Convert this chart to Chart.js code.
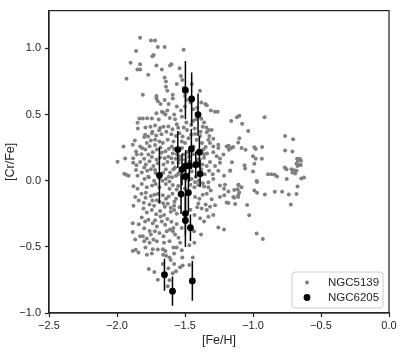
<!DOCTYPE html>
<html><head><meta charset="utf-8">
<script src="https://cdn.jsdelivr.net/npm/chart.js@4.4.0/dist/chart.umd.min.js"></script>
<style>html,body{margin:0;padding:0;background:#fff}</style>
</head><body>
<canvas id="c" width="407" height="357"></canvas>
<script>
const xTicks = [-2.5, -2.0, -1.5, -1.0, -0.5, 0.0];
const yTicks = [-1.0, -0.5, 0.0, 0.5, 1.0];
const seriesNames = ['NGC5139', 'NGC6205'];

// NGC5139: [Fe/H], [Cr/Fe]
const ngc5139 = [
[-1.83,1.08],[-1.75,1.06],[-1.72,1.06],[-1.51,0.99],[-1.70,1.01],[-1.65,1.01],[-1.86,0.98],[-1.90,0.89],[-1.83,0.88],[-1.85,0.84],
[-1.83,0.84],[-1.77,0.80],[-1.74,0.94],[-1.73,0.95],[-1.71,0.87],[-1.60,0.88],[-1.61,0.87],[-1.67,0.84],[-1.54,0.85],[-1.53,0.79],
[-1.52,0.76],[-1.65,0.78],[-1.64,0.75],[-1.93,0.77],[-1.81,0.65],[-1.71,0.64],[-1.71,0.62],[-1.70,0.60],[-1.64,0.71],[-1.63,0.68],
[-1.59,0.65],[-1.59,0.62],[-1.65,0.61],[-1.62,0.58],[-1.68,0.58],[-1.56,0.73],[-1.51,0.70],[-1.50,0.64],[-1.49,0.61],[-1.46,0.59],
[-1.45,0.73],[-1.39,0.68],[-1.38,0.59],[-1.35,0.58],[-1.34,0.57],[-1.31,0.53],[-1.28,0.52],[-1.26,0.52],[-1.50,0.56],[-1.56,0.56],
[-1.44,0.54],[-1.41,0.55],[-1.53,0.53],[-1.63,0.53],[-1.58,0.50],[-1.67,0.52],[-1.71,0.51],
[-1.835,0.469],[-1.810,0.469],[-1.778,0.472],[-1.744,0.469],[-1.693,0.462],[-1.658,0.514],[-1.644,0.499],[-1.612,0.474],[-1.573,0.464],[-1.522,0.482],
[-1.419,0.464],[-1.380,0.467],[-1.849,0.437],[-1.847,0.395],[-1.791,0.402],[-1.754,0.407],[-1.720,0.417],[-1.683,0.398],[-1.658,0.407],[-1.622,0.410],
[-1.592,0.388],[-1.561,0.427],[-1.509,0.402],[-1.485,0.383],[-1.455,0.420],[-1.429,0.395],[-1.370,0.407],[-1.343,0.402],[-1.328,0.383],[-1.340,0.365],
[-1.321,0.338],[-1.385,0.370],[-1.793,0.346],[-1.771,0.333],[-1.742,0.358],[-1.712,0.341],[-1.673,0.351],[-1.637,0.370],[-1.541,0.358],[-1.517,0.333],
[-1.566,0.338],[-1.455,0.346],[-1.426,0.353],[-1.389,0.338],[-1.304,0.383],[-1.292,0.316],
[-1.884,0.272],[-1.830,0.259],[-1.813,0.245],[-1.869,0.304],[-1.781,0.284],[-1.751,0.304],[-1.720,0.309],[-1.688,0.296],[-1.663,0.284],[-1.627,0.309],
[-1.597,0.259],[-1.585,0.296],[-1.524,0.296],[-1.500,0.284],[-1.475,0.321],[-1.414,0.309],[-1.375,0.284],[-1.328,0.309],[-1.316,0.284],[-1.348,0.254],
[-1.292,0.259],[-1.255,0.272],[-1.255,0.247],[-1.194,0.259],[-1.179,0.264],[-1.145,0.254],[-1.952,0.259],[-1.940,0.168],[-1.881,0.170],[-1.854,0.198],
[-1.791,0.235],[-1.769,0.198],[-1.737,0.215],[-1.707,0.235],[-1.671,0.210],[-1.644,0.222],[-1.619,0.242],[-1.590,0.205],[-1.522,0.247],[-1.507,0.198],
[-1.480,0.215],[-1.438,0.259],[-1.365,0.235],[-1.338,0.205],[-1.292,0.215],[-1.267,0.185],[-1.218,0.198],[-1.360,0.173],[-1.243,0.168],[-1.800,0.165],
[-1.744,0.178],[-1.710,0.160],[-1.683,0.175],[-1.622,0.180],[-1.568,0.165],[-1.544,0.185],
[-1.996,0.143],[-1.881,0.136],[-1.857,0.116],[-1.830,0.141],[-1.788,0.123],[-1.761,0.146],[-1.732,0.111],[-1.700,0.131],[-1.658,0.123],[-1.629,0.141],
[-1.590,0.136],[-1.573,0.099],[-1.548,0.136],[-1.468,0.141],[-1.397,0.141],[-1.372,0.123],[-1.340,0.111],[-1.316,0.141],[-1.279,0.111],[-1.243,0.136],
[-1.947,0.052],[-1.932,0.044],[-1.915,0.037],[-1.849,0.037],[-1.818,0.062],[-1.778,0.074],[-1.751,0.086],[-1.717,0.057],[-1.641,0.086],[-1.610,0.062],
[-1.585,0.086],[-1.566,0.037],[-1.541,0.062],[-1.380,0.086],[-1.355,0.049],[-1.323,0.074],[-1.296,0.049],[-1.255,0.074],[-1.213,0.037],[-1.169,0.074],
[-1.798,0.012],[-1.766,0.025],[-1.727,0.000],[-1.666,0.000],[-1.641,0.012],[-1.614,-0.007],[-1.595,0.025],[-1.451,0.012],[-1.426,-0.012],[-1.328,-0.012],
[-1.292,0.012],
[-1.879,-0.042],[-1.849,-0.062],[-1.818,-0.025],[-1.781,-0.049],[-1.742,-0.037],[-1.715,-0.025],[-1.688,-0.049],[-1.641,-0.025],[-1.614,-0.062],[-1.590,-0.032],
[-1.561,-0.067],[-1.431,-0.049],[-1.402,-0.032],[-1.360,-0.044],[-1.328,-0.049],[-1.311,-0.074],[-1.243,-0.037],[-1.213,-0.062],[-1.181,-0.081],[-1.108,-0.032],
[-1.820,-0.099],[-1.788,-0.091],[-1.751,-0.116],[-1.725,-0.106],[-1.707,-0.148],[-1.663,-0.111],[-1.639,-0.136],[-1.592,-0.099],[-1.566,-0.136],[-1.426,-0.123],
[-1.394,-0.136],[-1.370,-0.106],[-1.340,-0.099],[-1.304,-0.141],[-1.243,-0.123],[-1.211,-0.111],[-1.866,-0.123],[-1.879,-0.190],[-1.803,-0.167],[-1.761,-0.180],
[-1.727,-0.190],[-1.688,-0.160],[-1.649,-0.198],[-1.627,-0.175],[-1.605,-0.205],[-1.578,-0.160],[-1.402,-0.173],[-1.348,-0.180],[-1.316,-0.198],[-1.279,-0.185],
[-1.194,-0.165],[-1.145,-0.123],[-1.101,-0.089],
[-1.805,-0.210],[-1.781,-0.240],[-1.744,-0.222],[-1.712,-0.254],[-1.683,-0.230],[-1.654,-0.259],[-1.605,-0.235],[-1.580,-0.222],[-1.377,-0.210],[-1.340,-0.222],
[-1.292,-0.259],[-1.255,-0.353],[-1.213,-0.370],[-1.818,-0.279],[-1.793,-0.309],[-1.769,-0.296],[-1.737,-0.321],[-1.707,-0.346],[-1.671,-0.309],[-1.646,-0.333],
[-1.610,-0.370],[-1.585,-0.358],[-1.561,-0.328],[-1.389,-0.284],[-1.360,-0.309],[-1.328,-0.272],[-1.382,-0.407],[-1.884,-0.321],[-1.884,-0.388],[-1.810,-0.420],
[-1.781,-0.437],[-1.751,-0.407],[-1.732,-0.444],[-1.707,-0.457],[-1.688,-0.395],[-1.658,-0.420],[-1.634,-0.383],[-1.590,-0.383],[-1.573,-0.407],[-1.548,-0.432],
[-1.524,-0.358],[-1.433,-0.383],[-1.866,-0.444],[-1.830,-0.420],[-1.800,-0.457],[-1.761,-0.469],[-1.722,-0.383],[-1.654,-0.469],[-1.614,-0.457],[-1.536,-0.469],
[-1.468,-0.489],[-1.431,-0.469],
[-1.884,-0.531],[-1.862,-0.523],[-1.842,-0.543],[-1.791,-0.506],[-1.737,-0.519],[-1.663,-0.519],[-1.644,-0.531],[-1.561,-0.506],[-1.524,-0.526],[-1.443,-0.580],
[-1.639,-0.568],[-1.614,-0.580],[-1.744,-0.551],[-1.585,-0.506],[-1.766,-0.667],[-1.725,-0.691],[-1.700,-0.748],[-1.663,-0.630],[-1.622,-0.662],[-1.580,-0.630],
[-1.536,-0.654],[-1.517,-0.642],[-1.468,-0.637],[-1.590,-0.699],[-1.566,-0.684],[-1.614,-0.753],[-1.627,-0.798],[-1.605,-0.600],
[-1.58,0.24],[-1.56,0.20],[-1.54,0.16],[-1.50,0.16],[-1.47,0.18],[-1.44,0.20],[-1.41,0.16],[-1.39,0.16],[-1.36,0.20],
[-1.55,0.05],[-1.52,0.02],[-1.48,0.04],[-1.45,0.07],[-1.42,0.03],[-1.40,0.00],[-1.37,-0.02],[-1.55,-0.04],[-1.50,-0.06],[-1.46,-0.03],
[-1.86,0.08],[-1.80,0.10],[-1.77,0.03],[-1.72,0.08],[-1.69,0.02],[-1.66,0.06],[-1.62,0.03],[-1.86,0.22],[-1.82,0.20],[-1.76,0.26],
[-1.72,0.27],[-1.68,0.25],[-1.65,0.17],[-1.60,0.17],[-1.80,0.33],[-1.74,0.37],[-1.69,0.38],[-1.60,0.35],[-1.55,0.40],[-1.49,0.44],
[-1.44,0.45],[-1.36,0.44],
[-1.84,-0.15],[-1.79,-0.13],[-1.74,-0.15],[-1.70,-0.10],[-1.66,-0.17],[-1.62,-0.12],[-1.58,-0.19],[-1.84,-0.33],[-1.80,-0.36],[-1.76,-0.38],
[-1.72,-0.30],[-1.68,-0.27],[-1.63,-0.29],[-1.60,-0.31],[-1.56,-0.25],[-1.54,-0.20],[-1.46,-0.22],[-1.43,-0.26],[-1.41,-0.20],[-1.78,-0.56],
[-1.70,-0.52],[-1.66,-0.56],[-1.58,-0.55],[-1.52,-0.58],
[-1.16,0.45],[-1.118,0.479],[-1.10,0.49],[-1.08,0.43],[-1.035,0.375],[-0.915,0.48],[-0.764,0.338],[-0.705,0.313],[-0.764,0.227],[-0.71,0.22],
[-1.10,0.32],[-1.109,0.289],[-1.187,0.259],[-1.16,0.247],[-1.177,0.234],[-1.084,0.247],[-1.055,0.234],[-0.99,0.252],[-0.98,0.239],[-0.933,0.254],
[-1.0,0.185],[-0.98,0.165],[-0.935,0.165],[-1.155,0.14],[-1.062,0.116],[-1.058,0.091],[-1.167,0.076],[-0.99,0.128],[-1.0,0.069],[-0.889,0.049],
[-0.864,0.049],[-0.84,0.044],[-0.823,0.032],[-0.676,0.165],[-0.656,0.165],[-0.669,0.153],[-0.647,0.15],[-0.68,0.13],[-0.664,0.118],[-0.649,0.118],
[-0.673,0.111],[-0.766,0.1],[-0.754,0.086],[-0.717,0.086],[-0.698,0.079],[-0.71,0.061],[-0.69,0.054],[-0.68,0.074],[-0.645,0.017],[-0.625,0.024],
[-0.752,0.012],[-0.974,-0.003],[-0.97,-0.01],[-1.206,-0.03],[-1.106,-0.03],[-1.084,-0.05],[-1.113,-0.064],[-1.138,-0.07],[-0.99,-0.074],[-0.97,-0.092],
[-0.913,-0.104],[-0.84,-0.084],[-0.786,-0.084],[-0.737,-0.104],[-0.68,-0.10],[-0.673,-0.045],[-1.138,-0.13],[-1.109,-0.124],[-1.109,-0.11],[-1.18,-0.168],
[-1.131,-0.176],[-1.043,-0.183],[-0.722,-0.18],[-1.028,-0.262],[-0.973,-0.40],[-0.928,-0.44]
];

// NGC6205 with symmetric errors on [Cr/Fe]
const ngc6205Fe  = [-1.497,-1.451,-1.404,-1.553,-1.453,-1.394,-1.688,-1.495,-1.522,-1.468,-1.421,-1.497,-1.389,-1.529,-1.475,-1.497,-1.497,-1.460,-1.651,-1.592,-1.446];
const ngc6205Cr  = [0.684,0.617,0.499,0.235,0.240,0.215,0.040,0.111,0.086,0.111,0.121,0.032,0.052,-0.101,-0.091,-0.249,-0.301,-0.356,-0.711,-0.835,-0.758];
const ngc6205Err = [0.22,0.20,0.16,0.14,0.15,0.12,0.21,0.12,0.12,0.12,0.10,0.12,0.10,0.15,0.15,0.16,0.20,0.10,0.12,0.11,0.15];

const INK = '#262626';
const FONT = '"Liberation Sans", Arial, sans-serif';
const fmt = v => (v < 0 ? '\u2212' : '') + Math.abs(v).toFixed(1);

const errorBars = {
  id: 'errorBars',
  beforeDatasetDraw(chart, args) {
    if (args.index !== 1) return;
    const {ctx, chartArea: a, scales: {x, y}} = chart;
    ctx.save();
    ctx.beginPath(); ctx.rect(a.left, a.top, a.right - a.left, a.bottom - a.top); ctx.clip();
    ctx.strokeStyle = '#000'; ctx.lineWidth = 1.5;
    ngc6205Fe.forEach((fe, i) => {
      const px = x.getPixelForValue(fe);
      ctx.beginPath();
      ctx.moveTo(px, y.getPixelForValue(ngc6205Cr[i] - ngc6205Err[i]));
      ctx.lineTo(px, y.getPixelForValue(ngc6205Cr[i] + ngc6205Err[i]));
      ctx.stroke();
    });
    ctx.restore();
  }
};

const frameAndLegend = {
  id: 'frameAndLegend',
  afterDatasetsDraw(chart) {
    const {ctx, chartArea: a} = chart;
    ctx.save();
    ctx.strokeStyle = INK; ctx.lineWidth = 1.25;
    ctx.strokeRect(a.left, a.top, a.right - a.left, a.bottom - a.top);
    const bw = 91, bh = 36;
    const bx = a.right - 6 - bw, by = a.bottom - 5 - bh;
    const r = 3;
    ctx.beginPath();
    ctx.moveTo(bx + r, by); ctx.lineTo(bx + bw - r, by); ctx.arcTo(bx + bw, by, bx + bw, by + r, r);
    ctx.lineTo(bx + bw, by + bh - r); ctx.arcTo(bx + bw, by + bh, bx + bw - r, by + bh, r);
    ctx.lineTo(bx + r, by + bh); ctx.arcTo(bx, by + bh, bx, by + bh - r, r);
    ctx.lineTo(bx, by + r); ctx.arcTo(bx, by, bx + r, by, r); ctx.closePath();
    ctx.fillStyle = 'rgba(255,255,255,0.8)'; ctx.fill();
    ctx.strokeStyle = '#cccccc'; ctx.lineWidth = 1; ctx.stroke();
    const ds = chart.data.datasets;
    const rows = [by + 10.5, by + 25.5];
    ctx.font = '11.5px ' + FONT; ctx.textBaseline = 'middle'; ctx.textAlign = 'left';
    ds.forEach((d, i) => {
      ctx.beginPath(); ctx.fillStyle = d.backgroundColor;
      ctx.arc(bx + 15, rows[i], d.pointRadius, 0, Math.PI * 2); ctx.fill();
      ctx.fillStyle = INK; ctx.fillText(d.label, bx + 36, rows[i] + 0.5);
    });
    ctx.restore();
  }
};

new Chart(document.getElementById('c'), {
  type: 'scatter',
  data: {
    datasets: [
      { label: seriesNames[0], data: ngc5139.map(p => ({x: p[0], y: p[1]})),
        backgroundColor: '#808080', borderWidth: 0, pointRadius: 2, pointBorderWidth: 0, order: 1 },
      { label: seriesNames[1], data: ngc6205Fe.map((v, i) => ({x: v, y: ngc6205Cr[i]})),
        backgroundColor: '#000000', borderWidth: 0, pointRadius: 3.4, pointBorderWidth: 0, order: 0 }
    ]
  },
  options: {
    responsive: false, animation: false, devicePixelRatio: 1,
    layout: { padding: { left: 0, right: 18, top: 5, bottom: 0 } },
    plugins: { legend: { display: false }, tooltip: { enabled: false } },
    scales: {
      x: {
        type: 'linear', min: -2.5, max: 0.0,
        afterBuildTicks: s => { s.ticks = xTicks.map(v => ({value: v})); },
        afterFit: s => { s.height = 44; },
        grid: { drawOnChartArea: false, drawTicks: true, tickLength: 4, tickColor: INK, tickWidth: 1.25 },
        border: { display: true, color: INK, width: 1.25 },
        ticks: { callback: fmt, color: INK, font: { family: FONT, size: 11 }, padding: 2, maxRotation: 0 },
        title: { display: true, text: '[Fe/H]', color: INK, font: { family: FONT, size: 12.5 }, padding: { top: 0, bottom: 9 } }
      },
      y: {
        type: 'linear', min: -1.0, max: 1.285,
        afterBuildTicks: s => { s.ticks = yTicks.map(v => ({value: v})); },
        afterFit: s => { s.width = 49; },
        grid: { drawOnChartArea: false, drawTicks: true, tickLength: 4, tickColor: INK, tickWidth: 1.25 },
        border: { display: true, color: INK, width: 1.25 },
        ticks: { callback: fmt, color: INK, font: { family: FONT, size: 11 }, padding: 4 },
        title: { display: true, text: '[Cr/Fe]', color: INK, font: { family: FONT, size: 12.5 }, padding: { top: 3, bottom: 0 } }
      }
    }
  },
  plugins: [errorBars, frameAndLegend]
});
</script>
</body></html>
